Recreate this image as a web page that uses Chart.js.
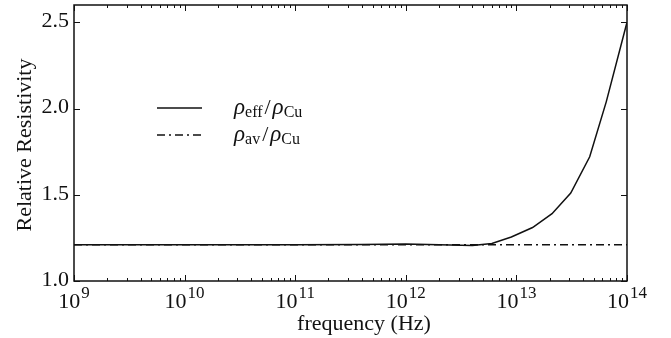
<!DOCTYPE html>
<html lang="en">
<head>
    <meta charset="UTF-8">
    <title>Relative Resistivity</title>
    <script src="https://cdn.jsdelivr.net/npm/chart.js@4.4.0/dist/chart.umd.min.js"></script>
    <style>
        html, body { margin: 0; padding: 0; background: #fff; }
        #wrap { width: 671px; height: 338px; }
    </style>
</head>
<body>
    <div id="wrap"><canvas id="resChart" width="671" height="338"></canvas></div>

    <script>
        // frequency (Hz) and relative resistivity
        const freqEff = [1e9, 1e10, 1e11, 4e11, 1e12, 2e12, 4e12, 6e12, 9e12, 1.4e13, 2.1e13, 3.1e13, 4.6e13, 6.5e13, 1e14];
        const rhoEff  = [1.21, 1.21, 1.21, 1.212, 1.214, 1.21, 1.206, 1.218, 1.255, 1.31, 1.39, 1.51, 1.72, 2.04, 2.5];
        const freqAv  = [1e9, 1e14];
        const rhoAv   = [1.21, 1.21];

        const xTickExps = [9, 10, 11, 12, 13, 14];
        const yTicks = [1.0, 1.5, 2.0, 2.5];
        const yTickLabels = ['1.0', '1.5', '2.0', '2.5'];

        const SERIF = '"Liberation Serif", "DejaVu Serif", serif';
        const INK = '#111';

        const toXY = (xs, ys) => xs.map((x, i) => ({ x: x, y: ys[i] }));

        // axes, ticks, labels and legend drawn by hand (LaTeX-like look)
        const decorations = {
            id: 'decorations',
            afterDraw(chart) {
                const ctx = chart.ctx;
                const a = chart.chartArea;
                const xs = chart.scales.x, ys = chart.scales.y;
                ctx.save();
                ctx.strokeStyle = INK;
                ctx.fillStyle = INK;

                // frame
                ctx.lineWidth = 1.5;
                ctx.strokeRect(a.left, a.top, a.right - a.left, a.bottom - a.top);

                // x ticks, major + minor, bottom and top
                ctx.lineWidth = 1;
                ctx.beginPath();
                for (let e = xTickExps[0]; e <= xTickExps[xTickExps.length - 1]; e++) {
                    for (let m = 1; m <= 9; m++) {
                        if (e === xTickExps[xTickExps.length - 1] && m > 1) break;
                        const px = Math.round(xs.getPixelForValue(m * Math.pow(10, e))) + 0.5;
                        const len = m === 1 ? 6 : 3;
                        ctx.moveTo(px, a.bottom); ctx.lineTo(px, a.bottom - len);
                        ctx.moveTo(px, a.top); ctx.lineTo(px, a.top + len);
                    }
                }
                // y ticks left and right
                yTicks.forEach(v => {
                    const py = Math.round(ys.getPixelForValue(v)) + 0.5;
                    ctx.moveTo(a.left, py); ctx.lineTo(a.left + 6, py);
                    ctx.moveTo(a.right, py); ctx.lineTo(a.right - 6, py);
                });
                ctx.stroke();

                // y tick labels
                ctx.font = '22px ' + SERIF;
                ctx.textAlign = 'right';
                ctx.textBaseline = 'middle';
                yTicks.forEach((v, i) => {
                    ctx.fillText(yTickLabels[i], a.left - 5, ys.getPixelForValue(v) - 1);
                });

                // x tick labels 10^n
                xTickExps.forEach(e => {
                    const px = xs.getPixelForValue(Math.pow(10, e));
                    ctx.font = '22px ' + SERIF;
                    const wb = ctx.measureText('10').width + 1;
                    ctx.font = '17px ' + SERIF;
                    const we = ctx.measureText(String(e)).width;
                    const x0 = px - (wb + we) / 2;
                    ctx.textAlign = 'left';
                    ctx.textBaseline = 'alphabetic';
                    ctx.font = '22px ' + SERIF;
                    ctx.fillText('10', x0, 308);
                    ctx.font = '17px ' + SERIF;
                    ctx.fillText(String(e), x0 + wb, 298);
                });

                // axis titles
                ctx.font = '22px ' + SERIF;
                ctx.textAlign = 'center';
                ctx.textBaseline = 'middle';
                ctx.fillText('frequency (Hz)', 364, 324);
                ctx.save();
                ctx.translate(25, 145);
                ctx.rotate(-Math.PI / 2);
                ctx.fillText('Relative Resistivity', 0, 0);
                ctx.restore();

                // legend
                const legendRows = [
                    { y: 108, dash: [], sub1: 'eff' },
                    { y: 135, dash: [8, 4, 2, 4], sub1: 'av' }
                ];
                legendRows.forEach(r => {
                    ctx.lineWidth = 1.5;
                    ctx.setLineDash(r.dash);
                    ctx.beginPath();
                    ctx.moveTo(157, r.y); ctx.lineTo(202, r.y);
                    ctx.stroke();
                    ctx.setLineDash([]);
                    let x = 234;
                    const base = r.y + 6;
                    const part = (txt, font, dy) => {
                        ctx.font = font;
                        ctx.textAlign = 'left';
                        ctx.textBaseline = 'alphabetic';
                        ctx.fillText(txt, x, base + dy);
                        x += ctx.measureText(txt).width;
                    };
                    part('ρ', 'italic 23px ' + SERIF, 0);
                    part(r.sub1, '16px ' + SERIF, 3);
                    x += 2;
                    part('/', '22px ' + SERIF, 0);
                    x += 2;
                    part('ρ', 'italic 23px ' + SERIF, 0);
                    part('Cu', '16px ' + SERIF, 3);
                });

                ctx.restore();
            }
        };

        const ctx = document.getElementById('resChart').getContext('2d');
        const resChart = new Chart(ctx, {
            type: 'scatter',
            data: {
                datasets: [{
                    label: 'rho_av / rho_Cu',
                    data: toXY(freqAv, rhoAv),
                    showLine: true,
                    borderColor: INK,
                    borderWidth: 1.5,
                    borderDash: [8, 4, 2, 4],
                    pointRadius: 0,
                    fill: false
                }, {
                    label: 'rho_eff / rho_Cu',
                    data: toXY(freqEff, rhoEff),
                    showLine: true,
                    borderColor: INK,
                    borderWidth: 1.5,
                    pointRadius: 0,
                    tension: 0,
                    fill: false
                }]
            },
            options: {
                responsive: false,
                animation: false,
                events: [],
                layout: { padding: { left: 74, right: 44, top: 5, bottom: 57 } },
                plugins: { legend: { display: false }, tooltip: { enabled: false } },
                scales: {
                    x: {
                        type: 'logarithmic',
                        min: 1e9,
                        max: 1e14,
                        grid: { display: false, drawTicks: false },
                        border: { display: false },
                        ticks: { display: false },
                        afterFit(s) { s.height = 0; }
                    },
                    y: {
                        type: 'linear',
                        min: 1.0,
                        max: 2.6,
                        grid: { display: false, drawTicks: false },
                        border: { display: false },
                        ticks: { display: false },
                        afterFit(s) { s.width = 0; }
                    }
                }
            },
            plugins: [decorations]
        });
    </script>
</body>
</html>
